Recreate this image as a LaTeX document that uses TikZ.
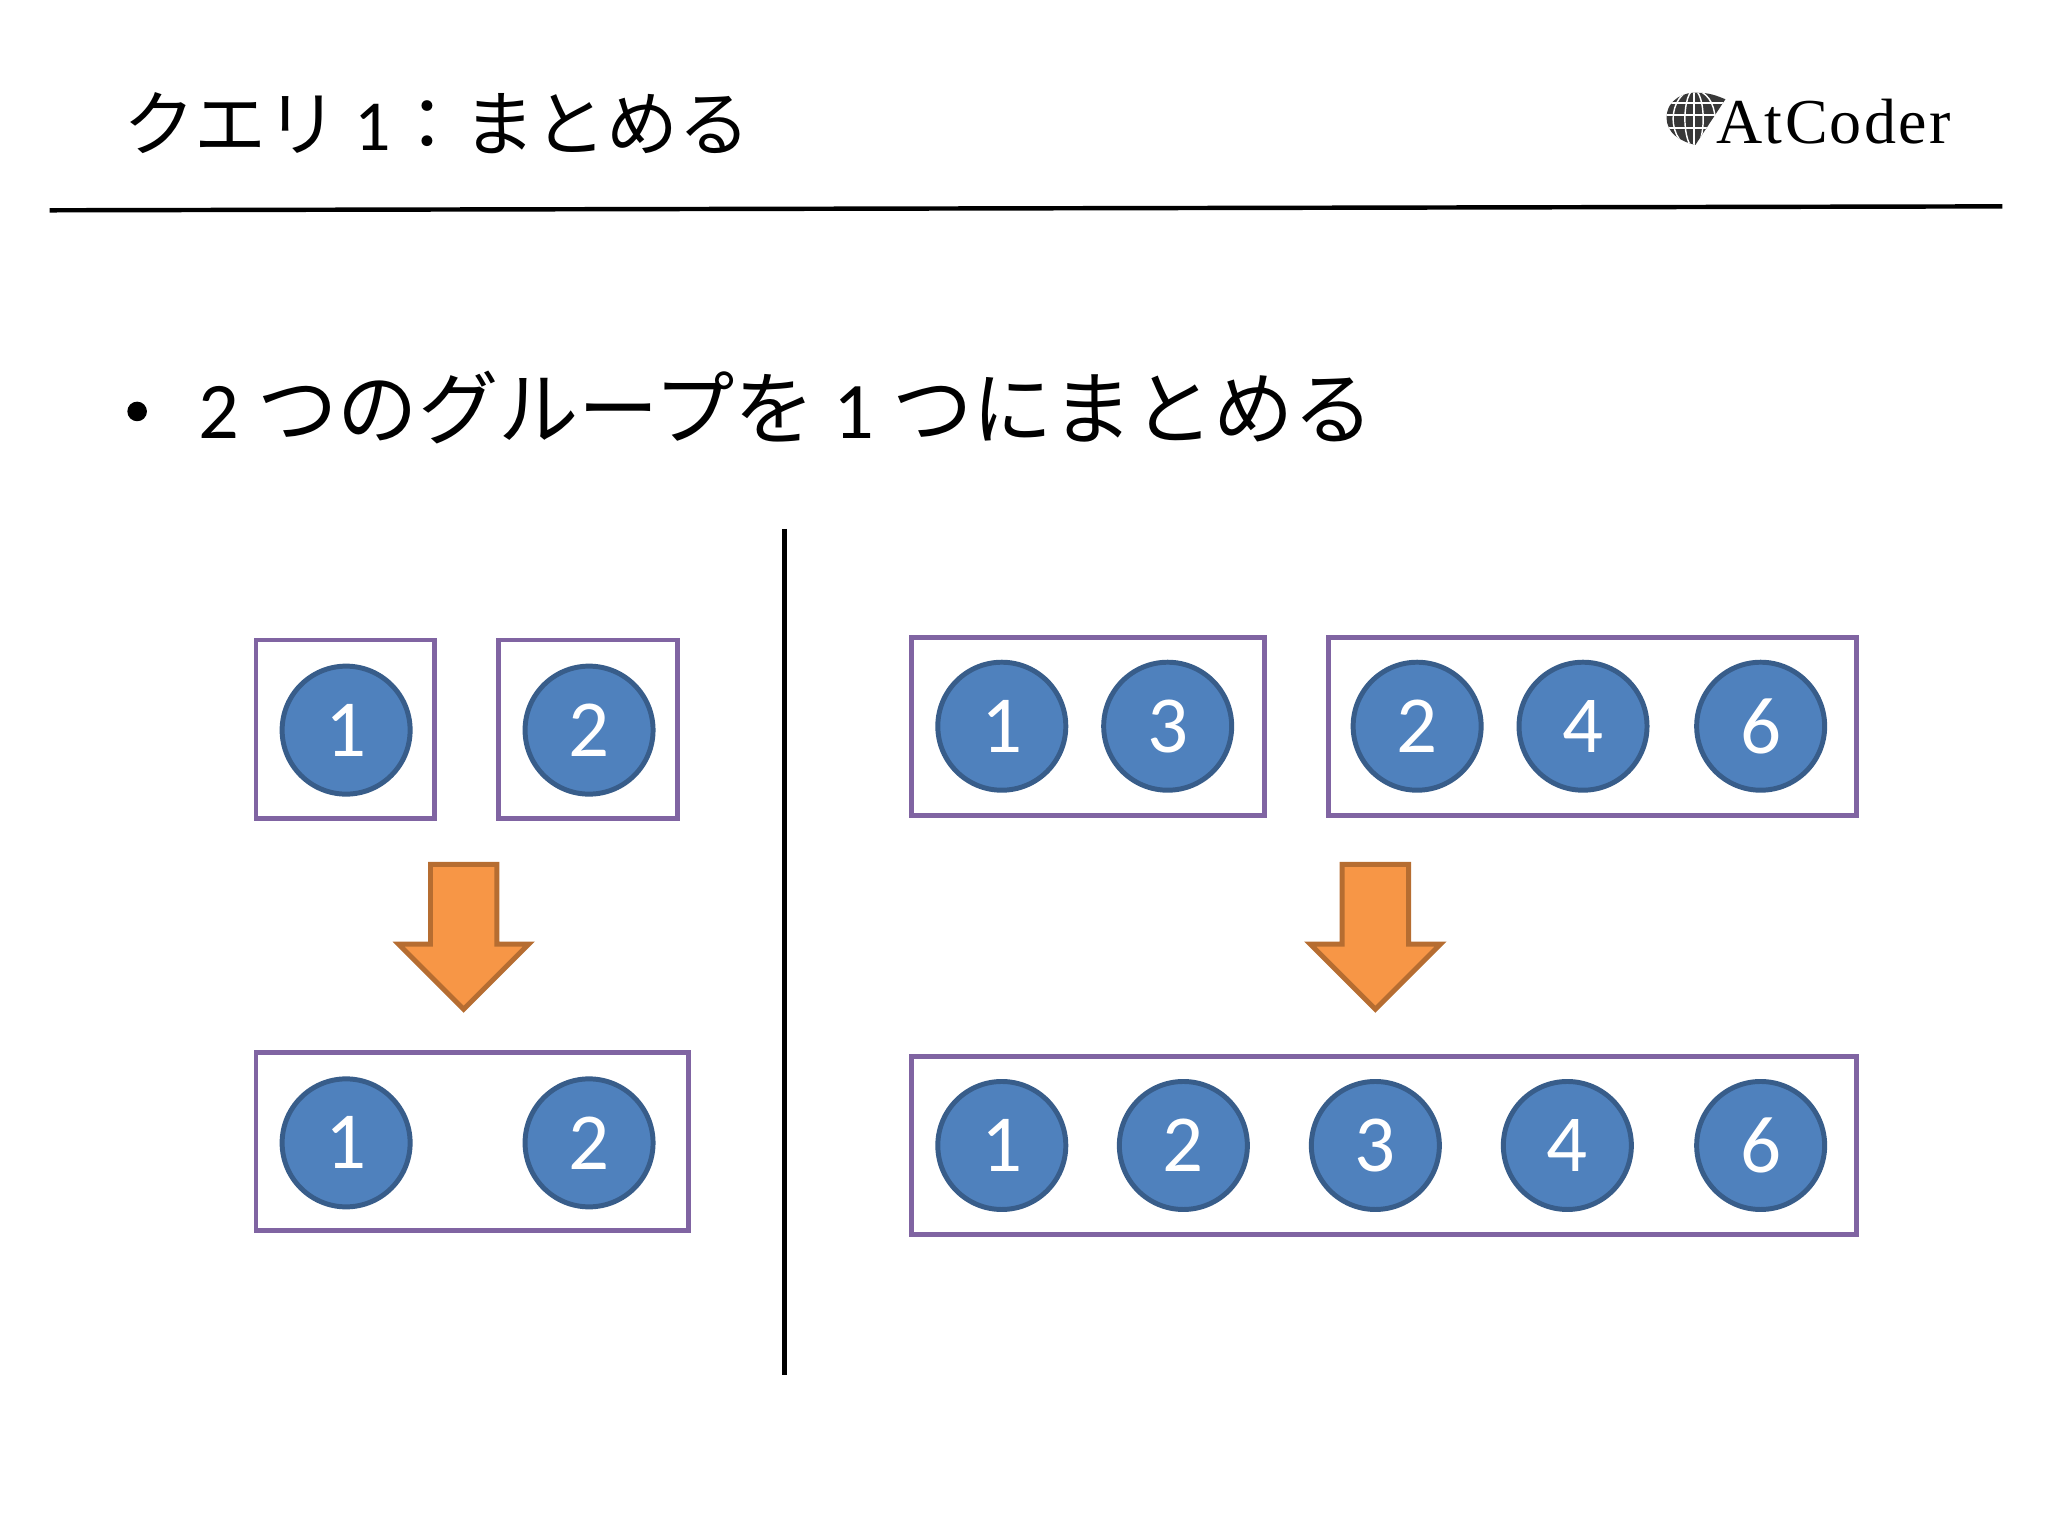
\documentclass[tikz,border=0pt]{standalone}
\usepackage{fontspec}
\setmainfont{Carlito}
\newfontfamily\cjk{Noto Sans CJK JP}
\newfontfamily\logofont[LetterSpace=3.5]{Liberation Serif}
\usetikzlibrary{shapes.arrows}

\definecolor{boxpurple}{HTML}{8064A2}
\definecolor{numblue}{HTML}{4F81BD}
\definecolor{numedge}{HTML}{385D8A}
\definecolor{arworange}{HTML}{F79646}
\definecolor{arwedge}{HTML}{B66D31}

\begin{document}
\begin{tikzpicture}[
		x=1pt,
		y=-1pt,
		grp/.style={rectangle, draw=boxpurple, line width=3.8pt, inner sep=0pt},
		num/.style={circle, draw=numedge, fill=numblue, line width=3.8pt, inner sep=0pt,
			minimum size=98pt, text=white, font=\fontsize{62}{62}\selectfont},
		arw/.style={single arrow, draw=arwedge, fill=arworange, line width=3.8pt,
			inner xsep=0pt, inner ysep=23.5pt,
			rotate=-90, minimum height=111pt, minimum width=96pt, single arrow head extend=24.5pt,
			single arrow tip angle=90},
		rule/.style={line width=3.4pt, black}
		]
		\useasboundingbox (0,0) rectangle (1568,1176);
		
		% Header
		\node[anchor=base west, inner sep=0pt, font=\fontsize{55}{55}\selectfont] (title) at (94,115)
		{{\cjk クエリ} 1{\cjk ：まとめる}};
		\coordinate (headl) at (38,161);
		\coordinate (headr) at (1533,158);
		\draw[rule] (headl) -- (headr);
		
		% Logo
		\begin{scope}
			\clip (1276,90) .. controls (1276,76) and (1290,70) .. (1300,71)
			.. controls (1308,71) and (1314,73) .. (1321,76) -- (1298,111)
			.. controls (1286,108) and (1276,102) .. (1276,90) -- cycle;
			\fill[black!78] (1270,65) rectangle (1325,115);
			\draw[white, line width=1.1pt] (1270,79) -- (1325,79) (1270,88) -- (1325,88) (1270,98) -- (1325,98);
			\draw[white, line width=1.1pt] (1297,91) ellipse (7 and 22) (1297,91) ellipse (16 and 22);
			\draw[white, line width=1.1pt] (1297,69) -- (1297,113);
		\end{scope}
		\node[anchor=base west, inner sep=0pt, font=\logofont\fontsize{49}{49}\selectfont] (logo) at (1314,110) {AtCoder};
		
		% Bullet line
		\node[circle, fill=black, inner sep=0pt, minimum size=15pt] (bullet) at (105,315) {};
		\node[anchor=base west, inner sep=0pt, font=\fontsize{61.5}{61.5}\selectfont] (head) at (152,336)
		{2 {\cjk つのグループを} 1 {\cjk つにまとめる}};
		
		% Divider
		\coordinate (divt) at (600.5,405);
		\coordinate (divb) at (600.5,1053);
		\draw[rule, line width=3.8pt] (divt) -- (divb);
		
		% Left side
		\node[grp, minimum width=137pt, minimum height=137pt] (boxa) at (264.5,558.5) {};
		\node[grp, minimum width=137pt, minimum height=137pt] (boxb) at (450.5,558.5) {};
		\node[grp, minimum width=331pt, minimum height=136pt] (boxc) at (361.5,874) {};
		\node[num] (a1) at (265,559) {1};
		\node[num] (b2) at (451,559) {2};
		\node[num] (c1) at (265,875) {1};
		\node[num] (c2) at (451,875) {2};
		\node[arw] (arwl) at (355,704.5) {};
		
		% Right side
		\node[grp, minimum width=270pt, minimum height=136pt] (boxd) at (833,556) {};
		\node[grp, minimum width=404pt, minimum height=136pt] (boxe) at (1219,556) {};
		\node[grp, minimum width=723pt, minimum height=136pt] (boxf) at (1059.5,877) {};
		\node[num] (d1) at (767,556) {1};
		\node[num] (d3) at (894,556) {3};
		\node[num] (e2) at (1085,556) {2};
		\node[num] (e4) at (1212,556) {4};
		\node[num] (e6) at (1348,556) {6};
		\node[num] (f1) at (767,877) {1};
		\node[num] (f2) at (906,877) {2};
		\node[num] (f3) at (1053,877) {3};
		\node[num] (f4) at (1200,877) {4};
		\node[num] (f6) at (1348,877) {6};
		\node[arw] (arwr) at (1053,704.5) {};
		
	\end{tikzpicture}
\end{document}
